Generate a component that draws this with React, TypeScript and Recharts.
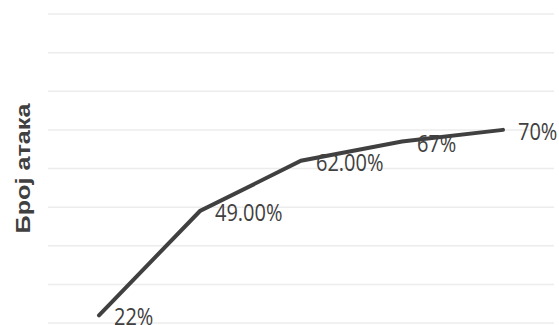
import React from "react";
import { LineChart, Line, XAxis, YAxis, CartesianGrid, LabelList } from "recharts";

const categories = ["1", "2", "3", "4", "5"];
const attacks = [22, 49, 62, 67, 70];
const valueLabels = ["22%", "49.00%", "62.00%", "67%", "70%"];
const yTicks = [20, 30, 40, 50, 60, 70, 80, 90, 100];
const yTitle = "Број атака";

const data = categories.map((c, i) => ({ cat: c, value: attacks[i], label: valueLabels[i] }));

const ValueLabel = (props: any) => {
  const { x, y, index } = props;
  return (
    <text
      transform={`translate(${x + 15}, ${y + 1}) scale(1, 1.16)`}
      fontFamily="'Open Sans', sans-serif"
      fontSize={20}
      fill="#404040"
      dominantBaseline="central"
      textAnchor="start"
    >
      {valueLabels[index]}
    </text>
  );
};

const AxisTitle = (props: any) => {
  const vb = props.viewBox || { x: 0, y: 14, width: 48, height: 309 };
  const cx = 23;
  const cy = vb.y + vb.height / 2;
  return (
    <text
      transform={`translate(${cx}, ${cy}) rotate(-90) scale(1.2, 1)`}
      fontFamily="'Liberation Sans', Arial, sans-serif"
      fontWeight="bold"
      fontSize={21}
      fill="#404040"
      textAnchor="middle"
      dominantBaseline="central"
    >
      {yTitle}
    </text>
  );
};

// empty tick so the grid still gets every y tick
const NoTick = () => <g />;

export default function App() {
  return (
    <div style={{ position: "fixed", left: 0, top: 0, width: 559, height: 325, background: "#fff" }}>
      <LineChart
        width={559}
        height={325}
        data={data}
        margin={{ top: 14, right: 5, bottom: 2, left: 0 }}
      >
        <CartesianGrid vertical={false} stroke="#ececec" strokeWidth={1.5} />
        <XAxis dataKey="cat" hide padding={{ left: 51, right: 51 }} />
        <YAxis
          width={48}
          domain={[20, 100]}
          ticks={yTicks}
          interval={0}
          tick={<NoTick />}
          axisLine={false}
          tickLine={false}
          label={<AxisTitle />}
        />
        <Line
          type="linear"
          dataKey="value"
          stroke="#404040"
          strokeWidth={4}
          strokeLinecap="round"
          dot={false}
          isAnimationActive={false}
        >
          <LabelList dataKey="value" content={<ValueLabel />} />
        </Line>
      </LineChart>
    </div>
  );
}
